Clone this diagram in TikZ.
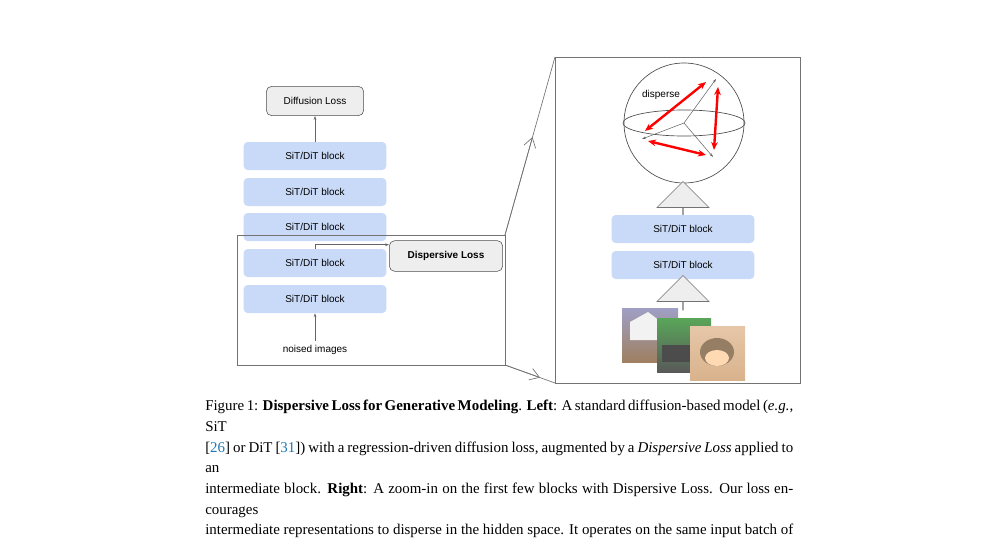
\documentclass[tikz,border=0pt]{standalone}
\usepackage{fontspec}
\setmainfont{Liberation Serif}
\newfontfamily\sff{Liberation Sans}
\usetikzlibrary{arrows.meta,shapes.arrows,calc}
\definecolor{blk}{HTML}{C9DAF8}
\definecolor{gbox}{HTML}{EEEEEE}
\definecolor{cite}{HTML}{1F77B4}
\begin{document}
\begin{tikzpicture}[x=0.75pt,y=-0.75pt,
  blk/.style={fill=blk,rounded corners=3pt,minimum width=107pt,minimum height=21pt,inner sep=0pt,font=\sff\fontsize{7.5}{9}\selectfont},
  loss/.style={fill=gbox,draw=black!70,rounded corners=4pt,inner sep=0pt,font=\sff\fontsize{7.5}{9}\selectfont},
  ln/.style={draw=black!55,line width=0.5pt},
  thin/.style={draw=black!60,line width=0.4pt,-{Stealth[length=3pt,width=2pt]}},
  red/.style={draw=red,line width=1.8pt,{Stealth[length=6pt,width=5pt]}-{Stealth[length=6pt,width=5pt]}},
  big/.style={single arrow,draw=black!55,fill=gbox,shape border rotate=90,single arrow head extend=14pt,minimum width=39pt,inner sep=0pt}]
\useasboundingbox (0,0) rectangle (1000,543);
% left column
\node[blk] (b1) at (315,299) {SiT/DiT block};
\node[blk] (b2) at (315,263) {SiT/DiT block};
\node[blk] (b3) at (315,227) {SiT/DiT block};
\node[blk] (b4) at (315,192) {SiT/DiT block};
\node[blk] (b5) at (315,156) {SiT/DiT block};
\node[loss,minimum width=73pt,minimum height=22pt] (dl) at (315,101) {Diffusion Loss};
\node[loss,minimum width=85pt,minimum height=23pt,font=\sff\bfseries\fontsize{7.5}{9}\selectfont] (dp) at (446,256) {Dispersive Loss};
\node[font=\sff\fontsize{7.5}{9}\selectfont] (ni) at (315,350) {noised images};
\draw[thin] (ni.north) -- (b1.south);
\draw[thin] (b5.north) -- (dl.south);
\draw[thin] (b2.north) -- ++(0,-4) coordinate (c1) -- (c1 -| dp.west);
% zoom boxes
\coordinate (z1) at (237,235); \coordinate (z2) at (505,235);
\coordinate (z3) at (505,365); \coordinate (z4) at (237,365);
\draw[ln] (z1) rectangle (z3);
\coordinate (r1) at (555,57); \coordinate (r3) at (800,383);
\draw[ln] (r1) rectangle (r3);
\draw[ln] (z2) -- (r1);
\draw[ln] (z3) -- (555,383);
\draw[ln,-{Straight Barb[length=7pt,width=9pt]}] (z2) -- ($(z2)!0.55!(r1)$);
\draw[ln,-{Straight Barb[length=7pt,width=9pt]}] (z3) -- ($(z3)!0.7!(555,383)$);
% sphere
\coordinate (o) at (684,123);
\draw[ln,draw=black!70] (o) circle (60);
\draw[ln,draw=black!70] (o) ellipse (61 and 13);
\coordinate (p1) at (716,79); \coordinate (p2) at (642,139); \coordinate (p3) at (713,157);
\draw[thin] (o) -- (p1); \draw[thin] (o) -- (p2); \draw[thin] (o) -- (p3);
\draw[red] (645,131) -- (706,82);
\draw[red] (718,87) -- (714,150);
\draw[red] (648,141) -- (706,155);
\node[font=\sff\fontsize{7.5}{9}\selectfont] (ds) at (661,95) {disperse};
% right column
\node[big,minimum height=26pt] (a1) at (683,199) {};
\node[blk] (rb2) at (683,229) {SiT/DiT block};
\node[blk] (rb1) at (683,265) {SiT/DiT block};
\node[big,minimum height=26pt] (a2) at (683,293) {};
% image placeholders
\shade[top color=blue!25!gray!60,bottom color=brown!50!gray] (622,308) rectangle (678,362);
\fill[white!90!gray] (630,322) -- (648,312) -- (672,330) -- (672,340) -- (630,340) -- cycle;
\shade[top color=green!30!gray,bottom color=gray!70!black] (657,318) rectangle (711,372);
\fill[black!70] (662,345) rectangle (705,362);
\shade[top color=orange!30!white!80!gray,bottom color=brown!60!white] (690,326) rectangle (745,380);
\fill[brown!55!black!70] (717,352) ellipse (17 and 14);
\fill[orange!30!white] (717,358) ellipse (12 and 8);
% caption
\node[anchor=north west,text width=441pt,align=justify,inner sep=0pt,
  font=\fontsize{11.2}{15.5}\selectfont] (cap) at (205,400) {%
Figure 1: \textbf{Dispersive Loss for Generative Modeling}. \textbf{Left}: A standard diffusion-based model (\textit{e.g.}, SiT\linebreak{}%
{[}\textcolor{cite}{26}] or DiT [\textcolor{cite}{31}]) with a regression-driven diffusion loss, augmented by a \textit{Dispersive Loss} applied to an\linebreak{}
intermediate block. \textbf{Right}: A zoom-in on the first few blocks with Dispersive Loss. Our loss encourages\linebreak{}
intermediate representations to disperse in the hidden space. It operates on the same input batch of\linebreak{}
noised images, shares the existing network blocks and computations, introducing negligible overhead,\linebreak{}
no additional parameters, and no reliance on external data.};
\end{tikzpicture}
\end{document}
